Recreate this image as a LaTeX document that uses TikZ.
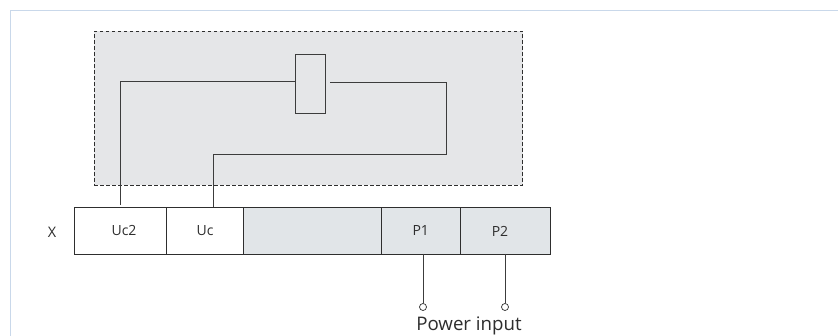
\documentclass[tikz,border=0pt]{standalone}
\usepackage{fontspec}
\setmainfont{Open Sans}
\definecolor{framec}{HTML}{C9D8EA}
\definecolor{boxfill}{HTML}{E5E6E8}
\definecolor{cellfill}{HTML}{E1E5E8}
\definecolor{ink}{HTML}{2E2E2E}
\definecolor{wirec}{HTML}{3C3C3C}
\tikzset{
  wire/.style={draw=wirec,line width=1pt},
  cell/.style={draw=ink,line width=1pt,minimum height=46.5pt,inner sep=0pt,font=\fontsize{14}{16}\selectfont,text=ink},
  shaded/.style={cell,fill=cellfill},
  plain/.style={cell,fill=white},
  term/.style={circle,draw=ink,fill=white,line width=0.7pt,minimum size=7pt,inner sep=0pt},
  lab/.style={text=ink,inner sep=0pt}
}
\begin{document}
\begin{tikzpicture}[x=1pt,y=-1pt]
\useasboundingbox (0,0) rectangle (838,336);
\fill[white] (0,0) rectangle (838,336);
\draw[framec,line width=1.1pt] (838,10.5) -- (10.5,10.5) -- (10.5,336);
\node[draw=ink,dash pattern=on 3.5pt off 2.5pt,fill=boxfill,line width=0.9pt,minimum width=428.5pt,minimum height=154pt,inner sep=0pt] (guard) at (308.25,108.5) {};
\node[wire,minimum width=30pt,minimum height=59pt,inner sep=0pt] (relay) at (310.5,84) {};
\node[plain,minimum width=92pt] (uctwo) at (120.5,231) {\hspace*{7pt}Uc2};
\node[plain,minimum width=77pt] (uc) at (205,231) {Uc};
\node[shaded,minimum width=138pt] (blank) at (312.5,231) {};
\node[shaded,minimum width=78.5pt] (pone) at (420.75,231) {P1};
\node[shaded,minimum width=90pt] (ptwo) at (505,231) {P2\hspace*{10pt}};
\node[lab,font=\fontsize{14.5}{16}\selectfont] (xlab) at (52,232) {X};
\node[term] (tone) at (423,307) {};
\node[term] (ttwo) at (505,307) {};
\node[lab,font=\fontsize{18.7}{22}\selectfont] (power) at (469,326) {Power input};
\coordinate (relayl) at (295.5,82);
\coordinate (relayr) at (330,83);
\coordinate (uctop) at (120.5,205.5);
\coordinate (ucin) at (213,207.5);
\draw[wire] (relayl) -| (uctop);
\draw[wire] (relayr) -- (446,83) -- (446,154.5) -- (213,154.5) -- (ucin);
\draw[wire] (423,254) -- (tone.north);
\draw[wire] (505,254) -- (ttwo.north);
\end{tikzpicture}
\end{document}
